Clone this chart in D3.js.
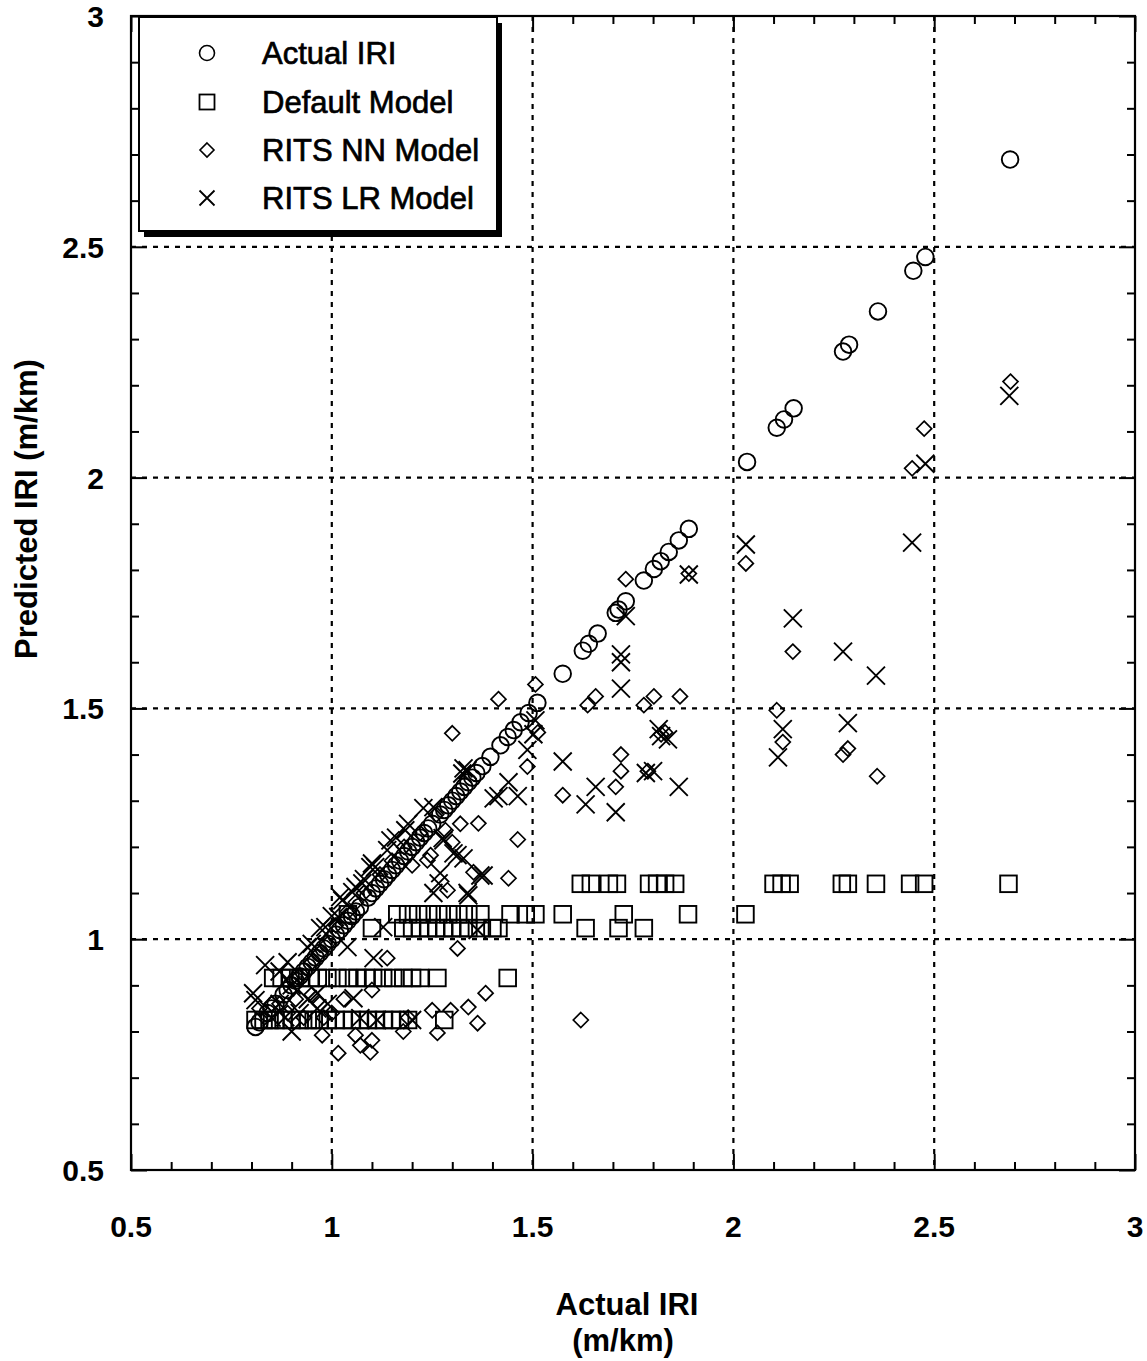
<!DOCTYPE html>
<html><head><meta charset="utf-8">
<script src="https://cdn.jsdelivr.net/npm/d3@7"></script>
<style>body{margin:0;background:#fff}svg{display:block}</style>
</head><body><svg id="c" width="1147" height="1361"></svg>
<script>
// ---- data ----
const seriesNames = ["Actual IRI", "Default Model", "RITS NN Model", "RITS LR Model"];
const xTicks = [0.5, 1, 1.5, 2, 2.5, 3];
const yTicks = [0.5, 1, 1.5, 2, 2.5, 3];
const tickLabels = ["0.5", "1", "1.5", "2", "2.5", "3"];
const gridValues = [1, 1.5, 2, 2.5];

// Actual IRI plotted against itself
const actualIRI = [0.81, 0.82, 0.84, 0.85, 0.86, 0.88, 0.89, 0.90, 0.91, 0.92, 0.93, 0.94, 0.95, 0.96,
  0.97, 0.98, 0.99, 1.00, 1.01, 1.02, 1.03, 1.04, 1.05, 1.06, 1.07, 1.09, 1.10, 1.11, 1.12, 1.13,
  1.14, 1.15, 1.16, 1.17, 1.18, 1.19, 1.20, 1.21, 1.22, 1.23, 1.24, 1.25, 1.27, 1.28, 1.29, 1.30,
  1.31, 1.32, 1.33, 1.34, 1.35, 1.36, 1.375, 1.395, 1.42, 1.438, 1.453, 1.47, 1.49, 1.512, 1.575,
  1.625, 1.64, 1.662, 1.707, 1.714, 1.732, 1.777, 1.802, 1.819, 1.839, 1.864, 1.889, 2.034, 2.108,
  2.126, 2.15, 2.273, 2.288, 2.36, 2.448, 2.478, 2.689];

const defaultModel = [
  [0.81,0.825],[0.83,0.825],[0.845,0.825],[0.86,0.825],[0.88,0.825],[0.90,0.825],[0.92,0.825],
  [0.94,0.825],[0.955,0.825],[0.97,0.825],[0.99,0.825],[1.01,0.825],[1.03,0.825],[1.05,0.825],
  [1.07,0.825],[1.09,0.825],[1.11,0.825],[1.13,0.825],[1.15,0.825],[1.17,0.825],[1.19,0.825],[1.28,0.825],
  [0.854,0.916],[0.875,0.916],[0.897,0.916],[0.922,0.916],[0.946,0.916],[0.965,0.916],[0.989,0.916],
  [1.014,0.916],[1.04,0.916],[1.064,0.916],[1.085,0.916],[1.103,0.916],[1.128,0.916],[1.153,0.916],
  [1.178,0.916],[1.20,0.916],[1.22,0.916],[1.263,0.916],[1.438,0.916],
  [1.10,1.024],[1.178,1.024],[1.20,1.024],[1.22,1.024],[1.24,1.024],[1.26,1.024],[1.28,1.024],
  [1.30,1.024],[1.32,1.024],[1.34,1.024],[1.37,1.024],[1.40,1.024],[1.415,1.024],[1.632,1.024],
  [1.714,1.024],[1.777,1.024],
  [1.04,1.054],[1.163,1.054],[1.19,1.054],[1.215,1.054],[1.24,1.054],[1.265,1.054],[1.29,1.054],
  [1.315,1.054],[1.34,1.054],[1.37,1.054],[1.445,1.054],[1.483,1.054],[1.507,1.054],[1.575,1.054],
  [1.727,1.054],[1.887,1.054],[2.03,1.054],
  [1.62,1.12],[1.645,1.12],[1.69,1.12],[1.71,1.12],[1.79,1.12],[1.81,1.12],[1.83,1.12],[1.855,1.12],
  [2.10,1.12],[2.12,1.12],[2.14,1.12],[2.27,1.12],[2.285,1.12],[2.355,1.12],[2.44,1.12],[2.475,1.12],
  [2.685,1.12]
];

const nnModel = [
  [0.82,0.85],[0.85,0.86],[0.87,0.86],[0.89,0.84],[0.91,0.87],[0.93,0.83],[0.95,0.88],[0.97,0.86],
  [0.976,0.792],[0.98,0.83],[1.00,0.84],[1.016,0.753],[1.03,0.87],[1.059,0.792],[1.071,0.77],
  [1.096,0.755],[1.10,0.781],[1.10,0.89],[1.138,0.959],[1.178,0.80],[1.19,0.83],[1.25,0.846],
  [1.263,0.797],[1.296,0.846],[1.34,0.853],[1.363,0.818],[1.383,0.883],[1.313,0.98],[1.62,0.825],
  [0.92,0.92],[0.95,0.95],[0.97,0.97],[0.99,0.99],[1.01,1.03],[1.04,1.06],[1.06,1.08],[1.08,1.10],
  [1.12,1.14],[1.15,1.17],[1.18,1.20],[1.20,1.16],[1.238,1.171],[1.22,1.23],[1.246,1.182],
  [1.26,1.27],[1.283,1.236],[1.30,1.21],[1.32,1.25],[1.353,1.145],[1.365,1.251],[1.288,1.106],
  [1.44,1.132],[1.463,1.216],[1.30,1.446],[1.415,1.52],[1.487,1.374],[1.507,1.552],[1.513,1.448],
  [1.575,1.312],[1.637,1.507],[1.657,1.526],[1.707,1.33],[1.72,1.364],[1.72,1.40],[1.732,1.78],
  [1.777,1.507],[1.787,1.364],[1.802,1.526],[1.82,1.444],[1.83,1.448],[1.867,1.526],[1.889,1.792],
  [2.031,1.814],[2.108,1.496],[2.123,1.427],[2.148,1.623],[2.273,1.40],[2.285,1.413],[2.358,1.353],
  [2.445,2.02],[2.475,2.106],[2.69,2.208]
];

const lrModel = [
  [0.804,0.883],[0.81,0.868],[0.834,0.944],[0.85,0.83],[0.87,0.86],[0.87,0.93],[0.884,0.831],
  [0.89,0.95],[0.90,0.80],[0.90,0.90],[0.92,0.84],[0.939,0.983],[0.94,0.87],[0.95,0.99],[0.964,0.883],
  [0.964,0.85],[0.971,1.024],[0.984,1.026],[0.99,0.86],[1.00,1.05],[1.016,1.048],[1.021,1.091],
  [1.026,1.084],[1.039,0.983],[1.051,1.102],[1.054,0.872],[1.059,1.113],[1.071,0.829],[1.076,1.121],
  [1.08,1.13],[1.096,1.156],[1.10,1.164],[1.104,0.959],[1.108,1.156],[1.113,0.825],[1.128,1.026],
  [1.138,1.193],[1.146,1.214],[1.16,1.22],[1.183,1.236],[1.19,1.25],[1.20,0.825],[1.228,1.284],
  [1.253,1.286],[1.253,1.10],[1.266,1.121],[1.27,1.143],[1.276,1.219],[1.278,1.214],[1.303,1.186],
  [1.313,1.182],[1.325,1.359],[1.328,1.175],[1.328,1.37],[1.338,1.10],[1.338,1.366],[1.34,1.095],
  [1.363,1.02],[1.37,1.138],[1.378,1.138],[1.403,1.305],[1.415,1.31],[1.44,1.34],[1.463,1.31],
  [1.487,1.41],[1.502,1.444],[1.507,1.474],[1.575,1.385],[1.632,1.292],[1.657,1.33],[1.707,1.275],
  [1.72,1.543],[1.72,1.60],[1.72,1.617],[1.732,1.70],[1.782,1.36],[1.80,1.364],[1.814,1.455],
  [1.82,1.44],[1.837,1.433],[1.864,1.33],[1.889,1.79],[2.031,1.855],[2.111,1.394],[2.123,1.455],
  [2.148,1.695],[2.273,1.623],[2.285,1.468],[2.355,1.571],[2.445,1.859],[2.478,2.03],[2.687,2.177]
];

// ---- layout ----
const plotL = 131, plotR = 1135, plotT = 16, plotB = 1170;
const FONT = "'Liberation Sans', Arial, sans-serif";
const svg = d3.select("#c");
const x = d3.scaleLinear().domain([0.5, 3]).range([plotL, plotR]);
const y = d3.scaleLinear().domain([0.5, 3]).range([plotB, plotT]);
const minorTicks = d3.range(5, 31).map(v => v / 10).filter(v => Math.abs(v * 2 - Math.round(v * 2)) > 1e-6);

// grid
const grid = svg.append("g").attr("stroke", "#000").attr("stroke-width", 2.2).attr("stroke-dasharray", "5,6");
grid.selectAll(".vg").data(gridValues).join("line").attr("class", "vg")
  .attr("x1", d => x(d)).attr("x2", d => x(d)).attr("y1", plotT).attr("y2", plotB);
grid.selectAll(".hg").data(gridValues).join("line").attr("class", "hg")
  .attr("y1", d => y(d)).attr("y2", d => y(d)).attr("x1", plotL).attr("x2", plotR);

// symbols
const SW = 1.9;
function diamondPath(cx, cy, s) {
  const p = d3.path();
  p.moveTo(cx, cy - s); p.lineTo(cx + s, cy); p.lineTo(cx, cy + s); p.lineTo(cx - s, cy); p.closePath();
  return p.toString();
}
function crossPath(cx, cy, s) {
  const p = d3.path();
  p.moveTo(cx - s, cy - s); p.lineTo(cx + s, cy + s); p.moveTo(cx + s, cy - s); p.lineTo(cx - s, cy + s);
  return p.toString();
}
svg.append("g").selectAll("rect").data(defaultModel).join("rect")
  .attr("x", d => x(d[0]) - 8.3).attr("y", d => y(d[1]) - 8.3).attr("width", 16.6).attr("height", 16.6)
  .attr("fill", "none").attr("stroke", "#000").attr("stroke-width", SW);
svg.append("g").selectAll("path").data(nnModel).join("path")
  .attr("d", d => diamondPath(x(d[0]), y(d[1]), 7.5))
  .attr("fill", "none").attr("stroke", "#000").attr("stroke-width", 1.7);
svg.append("g").selectAll("path").data(lrModel).join("path")
  .attr("d", d => crossPath(x(d[0]), y(d[1]), 9))
  .attr("fill", "none").attr("stroke", "#000").attr("stroke-width", SW);
svg.append("g").selectAll("circle").data(actualIRI).join("circle")
  .attr("cx", d => x(d)).attr("cy", d => y(d)).attr("r", 8.3)
  .attr("fill", "none").attr("stroke", "#000").attr("stroke-width", SW);

// axes (inward ticks on all sides)
function axisSet(axisFn, translate, vals, size) {
  svg.append("g").attr("transform", translate)
    .call(axisFn.tickValues(vals).tickSize(size).tickFormat(""))
    .call(a => a.selectAll("path.domain").remove())
    .call(a => a.selectAll("line").attr("stroke", "#000").attr("stroke-width", 2));
}
axisSet(d3.axisBottom(x), `translate(0,${plotB})`, minorTicks, -8);
axisSet(d3.axisBottom(x), `translate(0,${plotB})`, xTicks, -16);
axisSet(d3.axisTop(x), `translate(0,${plotT})`, minorTicks, -8);
axisSet(d3.axisTop(x), `translate(0,${plotT})`, xTicks, -16);
axisSet(d3.axisLeft(y), `translate(${plotL},0)`, minorTicks, -8);
axisSet(d3.axisLeft(y), `translate(${plotL},0)`, yTicks, -16);
axisSet(d3.axisRight(y), `translate(${plotR},0)`, minorTicks, -8);
axisSet(d3.axisRight(y), `translate(${plotR},0)`, yTicks, -16);

svg.append("rect").attr("x", plotL).attr("y", plotT).attr("width", plotR - plotL).attr("height", plotB - plotT)
  .attr("fill", "none").attr("stroke", "#000").attr("stroke-width", 2.2);

// tick labels
svg.append("g").selectAll("text").data(xTicks).join("text")
  .attr("x", d => x(d)).attr("y", 1237).attr("text-anchor", "middle")
  .attr("font-family", FONT).attr("font-weight", "bold").attr("font-size", 30)
  .text((d, i) => tickLabels[i]);
svg.append("g").selectAll("text").data(yTicks).join("text")
  .attr("x", 104).attr("y", d => y(d) + 11).attr("text-anchor", "end")
  .attr("font-family", FONT).attr("font-weight", "bold").attr("font-size", 30)
  .text((d, i) => tickLabels[i]);

// axis titles
svg.append("text").attr("x", 627).attr("y", 1315).attr("text-anchor", "middle")
  .attr("font-family", FONT).attr("font-weight", "bold").attr("font-size", 31).text("Actual IRI");
svg.append("text").attr("x", 623).attr("y", 1351).attr("text-anchor", "middle")
  .attr("font-family", FONT).attr("font-weight", "bold").attr("font-size", 31).text("(m/km)");
svg.append("text").attr("transform", "translate(37,509) rotate(-90)").attr("text-anchor", "middle")
  .attr("font-family", FONT).attr("font-weight", "bold").attr("font-size", 31).text("Predicted IRI (m/km)");

// legend
const lg = svg.append("g");
lg.append("rect").attr("x", 144).attr("y", 23).attr("width", 358).attr("height", 214).attr("fill", "#000");
lg.append("rect").attr("x", 139).attr("y", 17).attr("width", 358).attr("height", 214)
  .attr("fill", "#fff").attr("stroke", "#000").attr("stroke-width", 2);
const rowY = [53, 102, 150, 198];
const symX = 207;
lg.append("circle").attr("cx", symX).attr("cy", rowY[0]).attr("r", 7.5)
  .attr("fill", "none").attr("stroke", "#000").attr("stroke-width", 1.6);
lg.append("rect").attr("x", symX - 7.5).attr("y", rowY[1] - 7.5).attr("width", 15).attr("height", 15)
  .attr("fill", "none").attr("stroke", "#000").attr("stroke-width", 1.8);
lg.append("path").attr("d", diamondPath(symX, rowY[2], 7))
  .attr("fill", "none").attr("stroke", "#000").attr("stroke-width", 1.6);
lg.append("path").attr("d", crossPath(symX, rowY[3], 7.5))
  .attr("fill", "none").attr("stroke", "#000").attr("stroke-width", 1.8);
lg.selectAll("text.l").data(seriesNames).join("text").attr("class", "l")
  .attr("x", 262).attr("y", (d, i) => rowY[i] + 11)
  .attr("font-family", FONT).attr("font-size", 31)
  .attr("stroke", "#000").attr("stroke-width", 0.7)
  .text(d => d);
</script></body></html>
